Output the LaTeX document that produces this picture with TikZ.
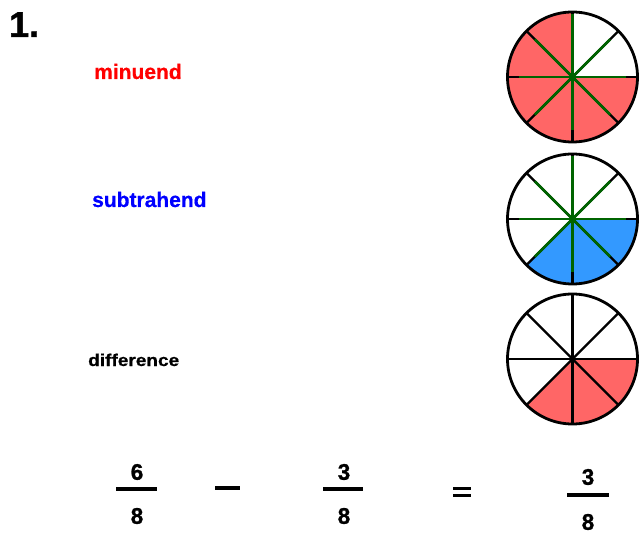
\documentclass[tikz,border=0pt]{standalone}
\usepackage{fontspec}
\setmainfont{Liberation Sans}
\newfontfamily\heavy[FakeBold=1.2]{Liberation Sans Bold}
\newfontfamily\semiheavy[FakeBold=0.6]{Liberation Sans Bold}
\definecolor{redfill}{HTML}{FF6666}
\definecolor{bluefill}{HTML}{3399FF}
\definecolor{spoke}{HTML}{006400}
\begin{document}
\begin{tikzpicture}[x=1pt,y=1pt,
  lbl/.style={inner sep=0pt},
  digit/.style={inner sep=0pt,font=\fontsize{22.5}{26}\heavy},
  bar/.style={line width=4pt},
  rim/.style={draw=black,line width=2.8pt},
  blackspoke/.style={draw=black,line width=2.4pt},
  greenspoke/.style={draw=spoke,line width=2.6pt}]
\useasboundingbox (0,0) rectangle (639,533);
\def\R{65}
% centres
\coordinate (c1) at (572.5,456);
\coordinate (c2) at (572.5,314);
\coordinate (c3) at (572.5,174);
% circle 1 : 6/8 red
\fill[redfill] (c1) -- ++(90:\R) arc[start angle=90,end angle=360,radius=\R] -- cycle;
\foreach \a in {0,45,...,315} \draw[blackspoke] (c1) -- ++(\a:\R);
\foreach \a in {0,45,...,315} \draw[greenspoke] (c1) -- ++(\a:0.82*\R);
\draw[greenspoke] (c1) -- ++(90:0.97*\R);
\draw[rim] (c1) circle[radius=\R];
\fill[spoke] (c1) circle[radius=3];
% circle 2 : 3/8 blue
\fill[bluefill] (c2) -- ++(225:\R) arc[start angle=225,end angle=360,radius=\R] -- cycle;
\foreach \a in {0,45,...,315} \draw[blackspoke] (c2) -- ++(\a:\R);
\foreach \a in {0,45,...,315} \draw[greenspoke] (c2) -- ++(\a:0.82*\R);
\draw[greenspoke] (c2) -- ++(90:0.97*\R);
\draw[rim] (c2) circle[radius=\R];
\fill[spoke] (c2) circle[radius=3];
% circle 3 : 3/8 red
\fill[redfill] (c3) -- ++(225:\R) arc[start angle=225,end angle=360,radius=\R] -- cycle;
\foreach \a in {0,45,...,315} \draw[blackspoke] (c3) -- ++(\a:\R);
\draw[rim] (c3) circle[radius=\R];
\fill (c3) circle[radius=2.5];
% labels
\node[lbl,anchor=base west,font=\fontsize{36}{40}\heavy] (num) at (9,496) {1.};
\node[lbl,anchor=base west,text=red,font=\fontsize{21}{25}\semiheavy] (minu) at (94,454) {minuend};
\node[lbl,anchor=base west,text=blue,font=\fontsize{21}{25}\semiheavy] (subt) at (92,326) {subtrahend};
\node[lbl,anchor=base west,font=\fontsize{17}{20}\semiheavy] (diff) at (88,167) {\scalebox{1.12}[1]{difference}};
% equation
\node[digit] (n1) at (137,61) {6};
\node[digit] (d1) at (137,17) {8};
\coordinate (b1l) at (116,44); \coordinate (b1r) at (157,44);
\draw[bar] (b1l) -- (b1r);
\coordinate (ml) at (215,45); \coordinate (mr) at (240,45);
\draw[line width=4pt] (ml) -- (mr);
\node[digit] (n2) at (344,61) {3};
\node[digit] (d2) at (344,17) {8};
\coordinate (b2l) at (323,44); \coordinate (b2r) at (363,44);
\draw[bar] (b2l) -- (b2r);
\coordinate (e1l) at (453,44.5); \coordinate (e1r) at (471,44.5);
\coordinate (e2l) at (453,37.5); \coordinate (e2r) at (471,37.5);
\draw[line width=3.5pt] (e1l) -- (e1r);
\draw[line width=3.5pt] (e2l) -- (e2r);
\node[digit] (n3) at (588,56) {3};
\node[digit] (d3) at (588,11) {8};
\coordinate (b3l) at (567,38); \coordinate (b3r) at (609,38);
\draw[bar] (b3l) -- (b3r);
\end{tikzpicture}
\end{document}
